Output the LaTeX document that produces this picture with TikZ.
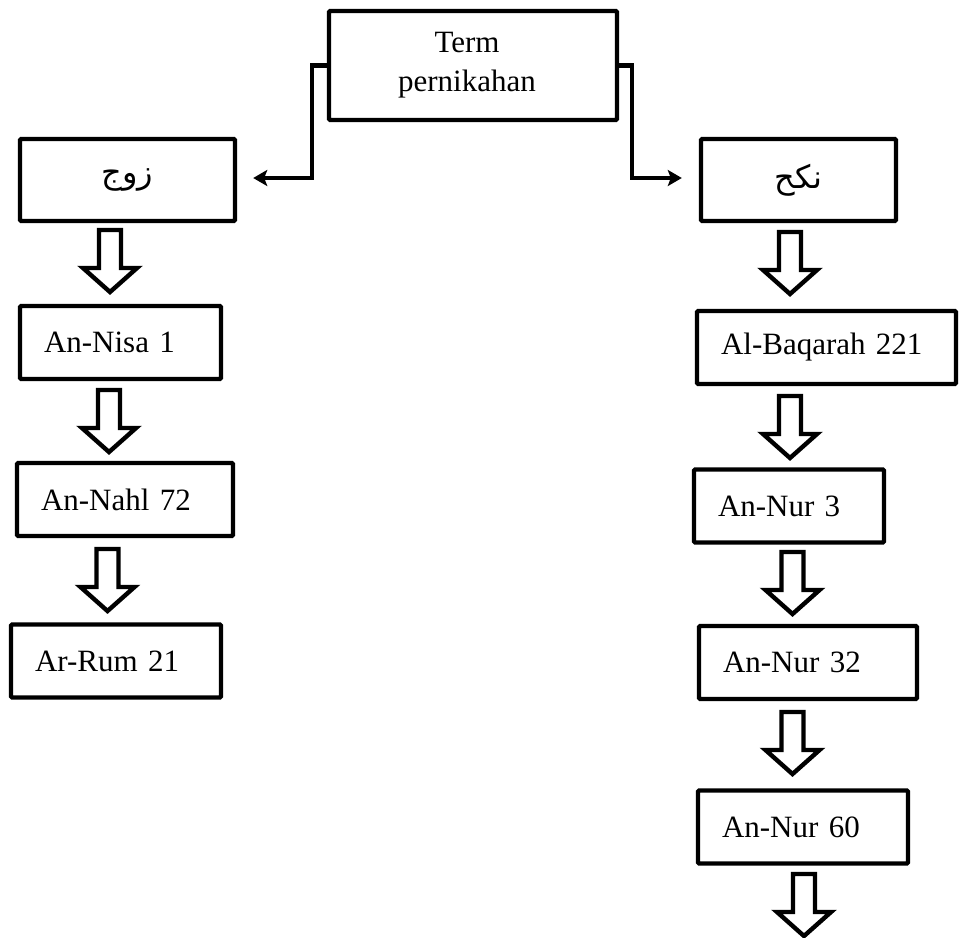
\documentclass[tikz,border=0pt]{standalone}
\usepackage{fontspec}
\setmainfont{Liberation Serif}
\newfontfamily\arabicfont[Script=Arabic]{DejaVu Sans}
\TeXXeTstate=1
\usepackage{tikz}
\usetikzlibrary{arrows.meta}

\tikzset{
  box/.style={draw, line width=2.2pt, rounded corners=0.6pt, font=\fontsize{15.5}{19.5}\selectfont, inner sep=0pt},
  ayat/.style={box, align=left, inner xsep=12pt, minimum height=#1},
  ayat/.default=36.5pt,
  elbow/.style={line width=2.2pt, -{Stealth[length=7pt,width=8pt,inset=1.5pt]}},
  hollowarrow/.pic={\draw[line width=2.2pt, fill=white, miter limit=4]
    (-11,2) -- (-11,40) -- (-27,40) -- (0,64) -- (27,40) -- (11,40) -- (11,2) -- cycle;}
}

\begin{document}
\begin{tikzpicture}[x=0.5pt, y=-0.5pt]
  \useasboundingbox (0,0) rectangle (961,937);

  \node[box, minimum width=144pt, minimum height=54.5pt, align=center] (term) at (473,65.5) {\hspace*{-6pt}Term\\\hspace*{-6pt}pernikahan};

  \node[box, minimum width=107.5pt, minimum height=41pt] (zawj) at (127.5,180) {\fontsize{16}{18}\arabicfont\beginR زوج\endR};
  \node[box, minimum width=97.5pt, minimum height=41pt] (nikah) at (798.5,180) {\fontsize{16}{18}\arabicfont\beginR نكح\endR};

  \draw[elbow] (term.west) -- ++(-15,0) |- ([xshift=8pt,yshift=1pt]zawj.east);
  \draw[elbow] (term.east) -- ++(13,0) |- ([xshift=-8.5pt,yshift=1pt]nikah.west);

  % kiri
  \node[ayat, text width=76.5pt] (nisa) at (120.5,342.5) {An-Nisa 1};
  \node[ayat, text width=84pt] (nahl) at (125,499.5) {An-Nahl 72};
  \node[ayat, text width=81pt] (rum) at (116,661) {Ar-Rum 21};

  \pic at (110,228) {hollowarrow};
  \pic at (109,388) {hollowarrow};
  \pic at (107.5,547) {hollowarrow};

  % kanan
  \node[ayat, text width=105.5pt] (baqarah) at (826.5,347.5) {Al-Baqarah 221};
  \node[ayat, text width=71pt] (nur3) at (789,506) {An-Nur 3};
  \node[ayat, text width=85pt] (nur32) at (808,662.5) {An-Nur 32};
  \node[ayat, text width=81pt] (nur60) at (803,827) {An-Nur 60};

  \pic at (790,230) {hollowarrow};
  \pic at (790,394) {hollowarrow};
  \pic at (792.5,550) {hollowarrow};
  \pic at (792.5,710) {hollowarrow};
  \pic at (804,872) {hollowarrow};
\end{tikzpicture}
\end{document}
